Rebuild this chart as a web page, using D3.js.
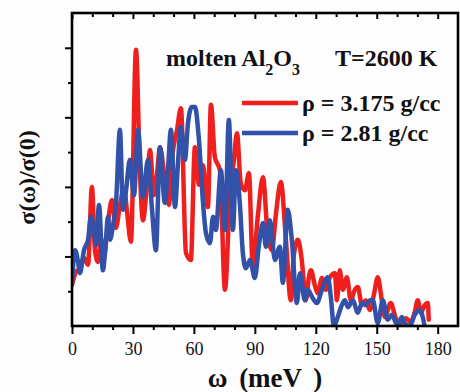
<!DOCTYPE html>
<html>
<head>
<meta charset="utf-8">
<script src="https://cdn.jsdelivr.net/npm/d3@7"></script>
<style>
  html, body { margin: 0; padding: 0; background: #ffffff; }
  svg { display: block; }
</style>
</head>
<body>
<script>
// ---- data ----
const xTicks = [0, 30, 60, 90, 120, 150, 180];
const xMinorTicks = [10, 20, 40, 50, 70, 80, 100, 110, 130, 140, 160, 170];
const yTicks = [1, 2, 3, 4];
const yMinorTicks = [0.5, 1.5, 2.5, 3.5];

const seriesNames = ["ρ = 3.175 g/cc", "ρ = 2.81 g/cc"];

const redOmega = [0, 2.0, 3.9, 5.9, 7.9, 9.8, 11.3, 12.8, 14.3, 15.7, 17.7, 19.7, 21.6, 23.6, 25.6, 27.1, 29.0,
  31.5, 33.4, 34.9, 36.9, 38.4, 40.3, 41.8, 43.3, 45.7, 47.7, 49.2, 51.7, 53.6, 56.1, 58.5, 60.5, 62.5, 64.4,
  66.9, 68.4, 70.3, 72.8, 75.3, 77.7, 79.7, 81.2, 83.1, 85.1, 87.1, 89.0, 91.5, 94.0, 96.4, 98.4, 100.3, 102.8,
  105.3, 107.7, 109.2, 111.2, 113.1, 115.1, 116.6, 117.6, 119.5, 121.0, 123.0, 124.9, 126.9, 129.4, 130.4,
  131.8, 133.3, 135.3, 137.2, 139.2, 140.7, 142.7, 144.6, 146.6, 148.6, 150.5, 152.5, 154.0, 156.9, 159.4,
  161.8, 164.3, 166.8, 168.7, 170.2, 171.7, 173.6, 175.1, 175.6];
const redSigma = [0.59, 0.78, 0.83, 0.98, 0.88, 2.00, 1.09, 0.92, 1.26, 0.98, 1.49, 1.81, 1.41, 1.74, 1.98, 1.64, 1.21,
  3.97, 2.24, 1.52, 2.03, 2.53, 1.88, 2.17, 2.57, 2.10, 1.74, 2.39, 2.82, 3.13, 1.05, 0.95, 2.57, 2.03, 2.31,
  1.71, 3.18, 2.43, 2.24, 0.52, 1.85, 2.39, 2.77, 2.05, 1.95, 2.20, 0.85, 1.59, 2.14, 1.28, 1.09, 1.59, 2.07,
  1.24, 0.37, 1.02, 1.24, 0.95, 0.37, 0.70, 0.80, 0.59, 0.47, 0.69, 0.52, 0.70, 0.76, 0.37,
  0.80, 0.52, 0.70, 0.37, 0.52, 0.56, 0.30, 0.37, 0.23, 0.45, 0.70, 0.37, 0.13, 0.33, 0.11,
  0.04, 0.11, 0.06, 0.20, 0.37, 0.19, 0.30, 0.33, 0.09];

const blueOmega = [0, 1.5, 3.0, 3.9, 5.9, 7.9, 9.3, 10.8, 11.8, 13.3, 15.2, 16.7, 17.7, 18.7, 20.2, 21.6, 23.6,
  25.1, 26.6, 28.5, 30.5, 32.5, 34.9, 37.4, 39.4, 41.3, 43.3, 45.7, 47.2, 48.7, 50.7, 52.1, 53.6, 55.6, 57.1,
  59.0, 60.5, 62.5, 64.4, 65.9, 67.9, 69.4, 70.8, 73.3, 75.3, 77.2, 79.2, 80.7, 82.6, 84.1, 85.6, 87.6, 90.0,
  92.0, 94.0, 95.4, 97.4, 99.9, 102.3, 103.8, 106.2, 108.2, 110.7, 112.2, 114.6, 116.1, 118.1, 120.5, 123.0,
  125.9, 127.4, 128.9, 130.8, 132.8, 134.3, 135.8, 138.2, 140.7, 142.7, 144.6, 146.6, 148.1, 150.5, 153.0,
  155.4, 157.4, 160.4, 162.3, 163.8, 166.3, 168.7, 171.2, 173.6];
const blueSigma = [0.62, 1.09, 0.92, 0.76, 1.09, 1.24, 1.57, 1.38, 1.16, 1.74, 0.80, 1.24, 1.57, 1.24, 1.45, 1.74, 2.82,
  1.67, 1.95, 2.39, 1.88, 2.82, 1.85, 2.39, 1.67, 1.09, 2.57, 1.77, 2.24, 2.82, 1.71, 2.31, 2.86, 2.39, 2.92,
  3.15, 3.15, 2.67, 1.81, 1.34, 1.19, 1.57, 1.38, 2.24, 1.38, 2.96, 1.38, 2.24, 1.77, 1.05, 0.83, 0.95, 0.69,
  1.16, 1.48, 1.14, 1.52, 0.95, 1.14, 0.62, 1.67, 1.24, 0.33, 0.76, 0.37, 0.52, 0.42, 0.33, 0.52,
  0.70, 0.42, 0.00, 0.13, 0.30, 0.37, 0.27, 0.37, 0.19, 0.33, 0.30, 0.37, 0.37, 0.04, 0.37,
  0.09, 0.16, 0.00, 0.13, 0.04, 0.00, 0.16, 0.23, 0.00];

const colors = ["#ee1f1d", "#3251a8"];

// ---- layout ----
const W = 460, H = 392;
const margin = { left: 72, right: 2, top: 13, bottom: 66 };
const x0 = margin.left, x1 = W - margin.right, y0 = margin.top, y1 = H - margin.bottom;
const serif = "'Liberation Serif','Times New Roman',Times,serif";

const x = d3.scaleLinear().domain([0, 190]).range([x0, x1]);
const y = d3.scaleLinear().domain([0, 4.5]).range([y1, y0]);

const svg = d3.select("body").append("svg")
  .attr("width", W).attr("height", H)
  .style("background", "#fdfdfe");

svg.append("defs").append("clipPath").attr("id", "plotclip")
  .append("rect").attr("x", x0).attr("y", y0 - 2).attr("width", x1 - x0).attr("height", y1 - y0 + 2);

// series
const series = [
  { name: seriesNames[0], omega: redOmega, sigma: redSigma, color: colors[0] },
  { name: seriesNames[1], omega: blueOmega, sigma: blueSigma, color: colors[1] }
];
const line = d3.line().curve(d3.curveMonotoneX)
  .x(d => x(d[0])).y(d => y(d[1]));

const g = svg.append("g").attr("clip-path", "url(#plotclip)");
series.forEach(s => {
  const pts = s.omega.map((w, i) => [w, s.sigma[i]]);
  g.append("path").datum(pts)
    .attr("d", line)
    .attr("fill", "none")
    .attr("stroke", s.color)
    .attr("stroke-width", 4.5)
    .attr("stroke-linejoin", "round")
    .attr("stroke-linecap", "round");
});

// axes
function styleAxis(sel) {
  sel.select(".domain").remove();
  sel.selectAll(".tick line").attr("stroke", "#000").attr("stroke-width", 2);
}
// bottom major
svg.append("g").attr("transform", `translate(0,${y1})`)
  .call(d3.axisBottom(x).tickValues(xTicks).tickSize(8).tickPadding(8).tickFormat(d3.format("d")))
  .call(styleAxis)
  .call(s => s.selectAll("text").attr("font-family", serif).attr("font-size", 18).attr("fill", "#111"));
// bottom minor
svg.append("g").attr("transform", `translate(0,${y1})`)
  .call(d3.axisBottom(x).tickValues(xMinorTicks).tickSize(4).tickFormat(""))
  .call(styleAxis);
// top major/minor (inward)
svg.append("g").attr("transform", `translate(0,${y0})`)
  .call(d3.axisTop(x).tickValues(xTicks).tickSize(-6).tickFormat(""))
  .call(styleAxis);
svg.append("g").attr("transform", `translate(0,${y0})`)
  .call(d3.axisTop(x).tickValues(xMinorTicks).tickSize(-4).tickFormat(""))
  .call(styleAxis);
// left major/minor (outward)
svg.append("g").attr("transform", `translate(${x0},0)`)
  .call(d3.axisLeft(y).tickValues(yTicks).tickSize(7).tickFormat(""))
  .call(styleAxis);
svg.append("g").attr("transform", `translate(${x0},0)`)
  .call(d3.axisLeft(y).tickValues(yMinorTicks).tickSize(4).tickFormat(""))
  .call(styleAxis);

// frame
svg.append("rect").attr("x", x0).attr("y", y0).attr("width", x1 - x0).attr("height", y1 - y0)
  .attr("fill", "none").attr("stroke", "#000").attr("stroke-width", 2.6);

// axis titles
svg.append("text")
  .attr("transform", `translate(35,${(y0 + y1) / 2 + 8}) rotate(-90)`)
  .attr("text-anchor", "middle")
  .attr("font-family", serif).attr("font-weight", "bold").attr("font-size", 24)
  .attr("fill", "#111")
  .text("σ(ω)/σ(0)");

svg.append("text")
  .attr("x", (x0 + x1) / 2).attr("y", 387)
  .attr("text-anchor", "middle")
  .attr("font-family", serif).attr("font-weight", "bold").attr("font-size", 27)
  .attr("word-spacing", 5)
  .attr("fill", "#111")
  .text("ω (meV )");

// annotation
const ann = svg.append("text")
  .attr("x", 166).attr("y", 66)
  .attr("font-family", serif).attr("font-weight", "bold").attr("font-size", 24)
  .attr("fill", "#111");
ann.append("tspan").text("molten Al");
ann.append("tspan").attr("dy", 9).attr("font-size", 16).text("2");
ann.append("tspan").attr("dy", -9).text("O");
ann.append("tspan").attr("dy", 9).attr("font-size", 16).text("3");

svg.append("text")
  .attr("x", 335).attr("y", 66)
  .attr("font-family", serif).attr("font-weight", "bold").attr("font-size", 24)
  .attr("fill", "#111")
  .text("T=2600 K");

// legend
const legY = [103, 133];
series.forEach((s, i) => {
  svg.append("line")
    .attr("x1", 242).attr("x2", 298).attr("y1", legY[i]).attr("y2", legY[i])
    .attr("stroke", s.color).attr("stroke-width", 4.5);
  svg.append("text")
    .attr("x", 302).attr("y", legY[i] + 8)
    .attr("font-family", serif).attr("font-weight", "bold").attr("font-size", 24)
    .attr("fill", "#111")
    .text(s.name);
});
</script>
</body>
</html>
